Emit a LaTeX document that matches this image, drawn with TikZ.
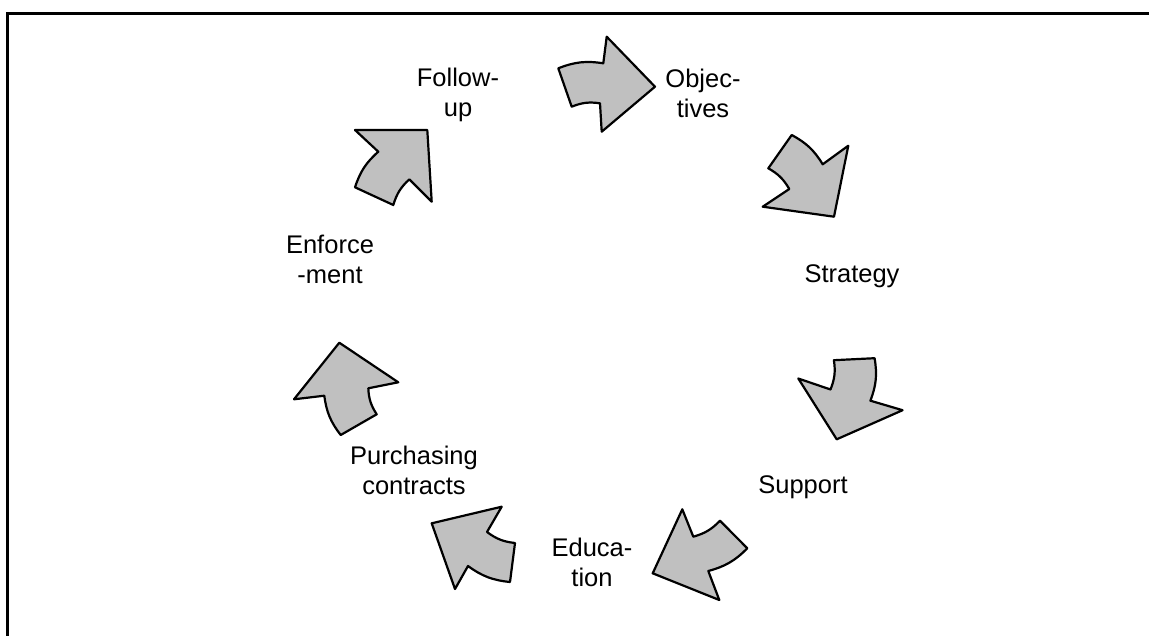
\documentclass[tikz,border=0pt]{standalone}
\usepackage{fontspec}
\setmainfont{Liberation Sans}
\definecolor{arrowgray}{RGB}{192,192,192}
\tikzset{
  cyclearrow/.style={fill=arrowgray, draw=black, line width=2.2pt, line join=round},
  steplabel/.style={align=center, font=\fontsize{25.5}{30}\selectfont, inner sep=0pt}
}
\begin{document}
\begin{tikzpicture}[x=1pt,y=-1pt]
	\useasboundingbox (0,0) rectangle (1149,635);
	\draw[line width=2.5pt] (7.3,640) -- (7.3,13.7) -- (1155,13.7);
	% step labels round the cycle
	\node[steplabel] (follow) at (458,95) {Follow-\\up};
	\node[steplabel] (objectives) at (703,93) {Objec-\\tives};
	\node[steplabel] (strategy) at (852,276) {Strategy};
	\node[steplabel] (support) at (803,487) {Support};
	\node[steplabel] (education) at (592,562) {Educa-\\tion};
	\node[steplabel] (purchasing) at (414,470) {Purchasing\\contracts};
	\node[steplabel] (enforcement) at (330,259) {Enforce\\-ment};
	% curved block arrows, clockwise
	\draw[cyclearrow] (558.3,68.3) to[bend left=15] (603.3,63.3) -- (606.7,36.7) -- (655,86.7) -- (601.7,131.7) -- (600,103.3) to[bend right=15] (571.7,106.7) -- cycle;
	\draw[cyclearrow] (791.7,135) to[bend left=15] (822.7,164.3) -- (848.3,145.7) -- (834,216.7) -- (762.7,206.7) -- (789.3,189) to[bend right=15] (768.3,168.3) -- cycle;
	\draw[cyclearrow] (874.6,358.2) to[bend left=15] (870.4,400.7) -- (902.6,410.2) -- (836.7,439.3) -- (798.3,378.5) -- (830.5,389.5) to[bend right=15] (833.9,360.2) -- cycle;
	\draw[cyclearrow] (747.3,548.3) to[bend left=15] (708.3,571) -- (719.3,600) -- (652.7,573.3) -- (682.3,509.3) -- (693.3,536.7) to[bend right=15] (720,520.7) -- cycle;
	\draw[cyclearrow] (510,582) to[bend left=15] (468,566) -- (455,589) -- (431.7,523.3) -- (501.7,506.7) -- (487,532) to[bend right=15] (515,543) -- cycle;
	\draw[cyclearrow] (340.7,435) to[bend left=15] (324.3,395.7) -- (294,399.3) -- (339.3,342.7) -- (398.3,382.3) -- (368.3,388.3) to[bend right=15] (376.7,414.3) -- cycle;
	\draw[cyclearrow] (355,187.3) to[bend left=15] (378.3,151.7) -- (355,130) -- (427.3,130) -- (431.7,201.7) -- (409.3,179.3) to[bend right=15] (393.3,205) -- cycle;
\end{tikzpicture}
\end{document}
